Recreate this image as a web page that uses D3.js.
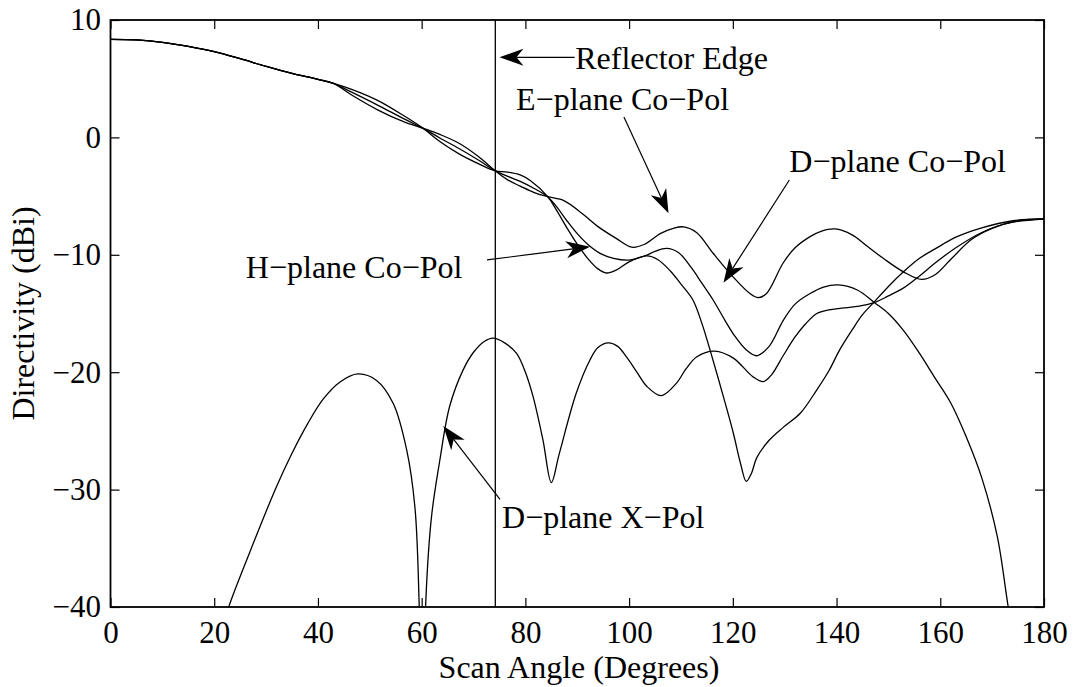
<!DOCTYPE html>
<html>
<head>
<meta charset="utf-8">
<script src="https://cdn.jsdelivr.net/npm/d3@7"></script>
<style>
  body { margin: 0; background: #fff; }
  svg { display: block; }
  text { font-family: "Liberation Serif", "Times New Roman", serif; fill: #000; }
</style>
</head>
<body>
<div id="chart"></div>
<script>
/* Directivity vs scan angle, D3 line chart */

// E-plane co-pol
const ePlaneAngle = [0, 5, 10, 15, 20, 25, 30, 35, 40, 43, 46.5, 51.5, 56.5, 60.3, 63.5, 67.2, 71, 74.2,
  76.5, 79, 81.7, 84.3, 87.5, 91, 94, 97.5, 100.5, 103, 106, 108.5, 110.5, 113, 116.2, 120, 123.3, 124.9,
  126.5, 129.7, 132, 134.9, 137, 139.7, 143, 146, 149, 152.9, 156.4, 159, 162, 166, 170, 175, 180];
const ePlaneDbi = [8.35, 8.3, 8.1, 7.75, 7.3, 6.7, 6.05, 5.45, 4.95, 4.6, 3.61, 2.35, 1.34, 0.77, 0.25, -0.5, -1.65, -2.85,
  -3.6, -4.15, -4.7, -5.05, -5.4, -6.5, -7.6, -8.6, -9.35, -9.1, -8.2, -7.75, -7.62, -8.1, -9.87, -11.86, -13.3, -13.65,
  -13.3, -10.7, -9.4, -8.45, -8.0, -7.8, -8.3, -9.3, -10.3, -11.45, -12.1, -11.7, -10.4, -8.7, -7.75, -7.1, -6.95];

// D-plane co-pol
const dPlaneAngle = [0, 5, 10, 15, 20, 25, 30, 35, 40, 43, 46.5, 51.5, 56.5, 60.3, 63.5, 67.2, 71, 74.2,
  76.5, 79, 81.7, 84.3, 86, 88, 90, 92, 94.5, 97, 100, 103, 105, 107.2, 109.5, 112, 114, 116.2, 118.5, 120.5,
  122.6, 124.6, 127, 129.7, 132, 134.9, 137.5, 140.3, 144, 147.4, 150, 153, 156, 159, 162, 165, 168, 171, 173.1, 175];
const dPlaneDbi = [8.35, 8.3, 8.1, 7.75, 7.3, 6.7, 6.05, 5.45, 4.95, 4.6, 3.85, 2.75, 1.6, 0.77, -0.05, -0.95, -1.95, -2.85,
  -3.3, -3.75, -4.35, -5.05, -5.9, -7.1, -8.2, -9.1, -9.9, -10.3, -10.45, -10.1, -9.7, -9.45, -9.8, -11.1, -12.4, -13.85, -15.6, -17.0,
  -18.1, -18.6, -17.8, -15.6, -14.2, -13.3, -12.75, -12.57, -13.0, -14.1, -15.0, -16.5, -18.4, -20.5, -22.6, -25.5, -29.0, -34.0, -40, -45];

// H-plane co-pol
const hPlaneAngle = [0, 5, 10, 15, 20, 25, 30, 35, 40, 43, 46.5, 51.5, 56.5, 60.3, 63.5, 67.2, 71, 74.2,
  76.5, 79, 81, 84.3, 86, 88, 90, 92, 94, 95.6, 97.5, 100, 103.4, 105.5, 108, 110, 112.3, 114, 115.6, 118,
  120.1, 121.5, 122.6, 123.6, 124.6, 127, 129.7, 133, 136.2, 138.5, 140.6, 143, 145, 147.1, 150, 152.9,
  156, 159, 163, 168, 174, 180];
const hPlaneDbi = [8.35, 8.3, 8.1, 7.75, 7.3, 6.7, 6.05, 5.45, 4.95, 4.6, 4.09, 3.15, 1.86, 0.77, -0.35, -1.4, -2.25, -2.85,
  -2.95, -3.2, -3.7, -5.05, -6.2, -7.7, -9.1, -10.3, -11.2, -11.55, -11.3, -10.6, -10.1, -10.4, -11.4, -12.5, -13.85, -15.8, -18.1, -21.8,
  -25.2, -27.8, -29.3, -28.6, -27.3, -25.8, -24.7, -23.5, -21.5, -19.9, -18.1, -16.4, -15.1, -14.1, -12.7, -11.45,
  -10.3, -9.5, -8.5, -7.7, -7.1, -6.95];

// D-plane cross-pol
const xPolAngle = [21.5, 22.8, 26.8, 32, 35, 38, 41, 44.2, 47.7, 51.3, 54.5, 57.1, 58.7, 59.5, 60.15, 60.8, 61.9,
  63.5, 65.4, 68, 70, 72, 73.8, 76, 78.3, 80, 81.5, 83.4, 85, 86.5, 89.8, 92.4, 94, 96, 97.8, 99.5, 101.5,
  103.4, 106.2, 109.1, 111, 113, 116.5, 120.1, 123.9, 125.9, 127.5, 129.7, 132, 134, 136.2, 138.5, 141, 144,
  147.1, 150, 153, 156, 159, 163, 168, 173, 180];
const xPolDbi = [-42, -40, -35.4, -29.75, -26.9, -24.4, -22.3, -20.85, -20.15, -20.7, -22.65, -26.6, -31.5, -39.5, -55, -39.5, -32.3,
  -27.5, -22.9, -19.8, -18.3, -17.4, -17.1, -17.5, -18.4, -20.0, -22.1, -25.8, -29.4, -27.0, -21.8, -19.0, -17.9, -17.5, -17.8, -18.7, -20.0,
  -21.2, -22.0, -20.95, -19.7, -18.7, -18.2, -18.8, -20.4, -20.8, -20.2, -18.6, -17.0, -15.9, -15.0, -14.7, -14.55, -14.4,
  -14.1, -13.5, -12.8, -11.8, -10.7, -9.4, -8.1, -7.3, -6.95];

const reflectorEdge = 74.2;

const xTicks = [0, 20, 40, 60, 80, 100, 120, 140, 160, 180];
const yTicks = [-40, -30, -20, -10, 0, 10];

// annotations: label, text anchor (deg, dBi), arrow tail, arrow tip
const noteLabels = ['Reflector Edge', 'E\u2212plane Co\u2212Pol', 'D\u2212plane Co\u2212Pol', 'H\u2212plane Co\u2212Pol', 'D\u2212plane X\u2212Pol'];
const noteText = [[89.6, 5.85], [78.2, 2.33], [130.9, -2.92], [26.1, -11.98], [75.5, -33.3]];
const noteFrom = [[89.5, 6.82], [99.0, 1.74], [130.9, -3.63], [72.6, -10.44], [75.1, -30.83]];
const noteTo = [[75.0, 6.82], [107.6, -6.47], [118.2, -12.38], [92.46, -9.31], [64.17, -24.58]];

const W = 1074, H = 687;
const margin = { top: 20, right: 30, bottom: 80, left: 110.5 };
const innerW = 1044 - margin.left;
const innerH = 607 - margin.top;
const TICK_FONT = 31;
const FONT = 32;

const svg = d3.select('#chart').append('svg')
  .attr('width', W).attr('height', H);

const g = svg.append('g').attr('transform', `translate(${margin.left},${margin.top})`);

const x = d3.scaleLinear().domain([0, 180]).range([0, innerW]);
const y = d3.scaleLinear().domain([-40, 10]).range([innerH, 0]);

svg.append('defs').append('clipPath').attr('id', 'plotclip')
  .append('rect').attr('width', innerW).attr('height', innerH);

const line = d3.line()
  .x((d) => x(d[0]))
  .y((d) => y(d[1]))
  .curve(d3.curveCatmullRom.alpha(0.5));

const series = [
  [ePlaneAngle, ePlaneDbi],
  [dPlaneAngle, dPlaneDbi],
  [hPlaneAngle, hPlaneDbi],
  [xPolAngle, xPolDbi],
];

const lines = g.append('g').attr('clip-path', 'url(#plotclip)');
series.forEach(([a, v]) => {
  lines.append('path')
    .datum(a.map((t, i) => [t, v[i]]))
    .attr('fill', 'none')
    .attr('stroke', '#000')
    .attr('stroke-width', 1.3)
    .attr('d', line);
});

// reflector edge marker
g.append('line')
  .attr('x1', x(reflectorEdge)).attr('x2', x(reflectorEdge))
  .attr('y1', y(10)).attr('y2', y(-40))
  .attr('stroke', '#000').attr('stroke-width', 1.3);

// axes, ticks pointing inward on all four sides
const styleAxis = (sel) => {
  sel.select('.domain').remove();
  sel.selectAll('line').attr('stroke', '#000').attr('stroke-width', 1.2);
  sel.selectAll('text').attr('font-size', TICK_FONT).attr('font-family', '"Liberation Serif", serif').attr('fill', '#000');
};

g.append('g').attr('transform', `translate(0,${innerH})`)
  .call(d3.axisBottom(x).tickValues(xTicks).tickSizeInner(-9).tickSizeOuter(0).tickPadding(14))
  .call(styleAxis);
g.append('g')
  .call(d3.axisTop(x).tickValues(xTicks).tickSizeInner(-9).tickSizeOuter(0).tickFormat(''))
  .call(styleAxis);
g.append('g')
  .call(d3.axisLeft(y).tickValues(yTicks).tickSizeInner(-9).tickSizeOuter(0).tickPadding(9.5))
  .call(styleAxis);
g.append('g').attr('transform', `translate(${innerW},0)`)
  .call(d3.axisRight(y).tickValues(yTicks).tickSizeInner(-9).tickSizeOuter(0).tickFormat(''))
  .call(styleAxis);

g.append('rect')
  .attr('width', innerW).attr('height', innerH)
  .attr('fill', 'none').attr('stroke', '#000').attr('stroke-width', 1.8);

// axis titles
svg.append('text')
  .attr('x', 579).attr('y', 678)
  .attr('text-anchor', 'middle').attr('font-size', FONT)
  .text('Scan Angle (Degrees)');
svg.append('text')
  .attr('transform', `translate(34,${margin.top + innerH / 2}) rotate(-90)`)
  .attr('text-anchor', 'middle').attr('font-size', FONT)
  .text('Directivity (dBi)');

// annotation arrows
function arrow(sel, x1, y1, x2, y2) {
  const dx = x2 - x1, dy = y2 - y1, len = Math.hypot(dx, dy);
  const ux = dx / len, uy = dy / len, px = -uy, py = ux;
  const L = 24, HW = 8.5, N = 17;
  sel.append('line')
    .attr('x1', x1).attr('y1', y1)
    .attr('x2', x2 - ux * N).attr('y2', y2 - uy * N)
    .attr('stroke', '#000').attr('stroke-width', 1.2);
  sel.append('path')
    .attr('d', `M${x2},${y2}L${x2 - ux * L + px * HW},${y2 - uy * L + py * HW}` +
      `L${x2 - ux * N},${y2 - uy * N}L${x2 - ux * L - px * HW},${y2 - uy * L - py * HW}Z`)
    .attr('fill', '#000');
}

const notes = g.append('g');
noteLabels.forEach((lab, i) => {
  notes.append('text')
    .attr('x', x(noteText[i][0])).attr('y', y(noteText[i][1]))
    .attr('font-size', FONT)
    .text(lab);
  arrow(notes, x(noteFrom[i][0]), y(noteFrom[i][1]), x(noteTo[i][0]), y(noteTo[i][1]));
});
</script>
</body>
</html>
